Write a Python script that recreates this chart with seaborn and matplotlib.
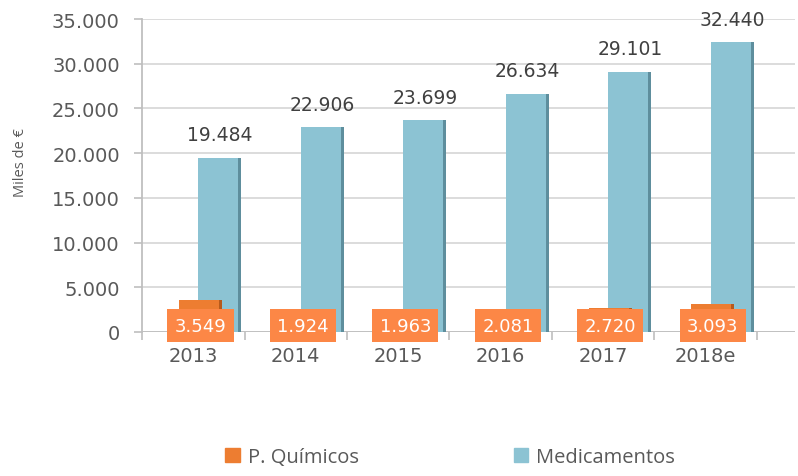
import matplotlib
matplotlib.use("Agg")
import matplotlib.pyplot as plt
from matplotlib.patches import Patch, Rectangle
from matplotlib.ticker import FuncFormatter, FixedLocator
import pandas as pd
import seaborn as sns

# --- data ---
years = ["2013", "2014", "2015", "2016", "2017", "2018e"]
quimicos = [3549, 1924, 1963, 2081, 2720, 3093]
medicamentos = [19484, 22906, 23699, 26634, 29101, 32440]

ORANGE = "#ED7D31"
ORANGE_DARK = "#B65A1C"
LABEL_BOX = "#FC8746"
BLUE = "#8CC3D3"
BLUE_DARK = "#5E8E9D"
GREY_TXT = "#595959"


def fmt_es(v, pos=None):
    return f"{int(v):,}".replace(",", ".")


def main():
    df_q = pd.DataFrame({"year": years, "value": quimicos})
    df_m = pd.DataFrame({"year": years, "value": medicamentos})

    sns.set_style("white")
    plt.rcParams["font.family"] = ["DejaVu Sans"]

    fig = plt.figure(figsize=(7.98, 4.77), dpi=100)
    ax = fig.add_axes([0.178, 0.302, 0.818, 0.656])

    # back series first, front series on top
    sns.barplot(data=df_m, x="year", y="value", color=BLUE, width=0.42,
                saturation=1, ax=ax, zorder=2)
    n_m = len(ax.patches)
    sns.barplot(data=df_q, x="year", y="value", color=ORANGE, width=0.42,
                saturation=1, ax=ax, zorder=3)

    # shift bars to mimic the 3D depth offset
    for i, p in enumerate(ax.patches[:]):
        shift = 0.26 if i < n_m else 0.07
        p.set_x(p.get_x() + shift)
        p.set_edgecolor("none")

    # darker right side of each bar
    for i, p in enumerate(list(ax.patches)):
        dark = BLUE_DARK if i < n_m else ORANGE_DARK
        w = p.get_width() * 0.07
        ax.add_patch(Rectangle((p.get_x() + p.get_width() - w, 0), w,
                               p.get_height(), color=dark, lw=0,
                               zorder=p.get_zorder()))

    # value labels for medicamentos
    for i, v in enumerate(medicamentos):
        ax.text(i + 0.26, v + 1500, fmt_es(v), ha="center", va="bottom",
                fontsize=13.5, color="#404040", zorder=5)

    # boxed labels for p. quimicos
    for i, v in enumerate(quimicos):
        ax.text(i + 0.07, 700, fmt_es(v), ha="center", va="center",
                fontsize=13, color="white", zorder=6,
                bbox=dict(boxstyle="square,pad=0.4", fc=LABEL_BOX, ec="none"))

    ax.set_ylim(0, 35000)
    ax.set_xlim(-0.5, 5.87)
    ax.yaxis.set_major_locator(FixedLocator(range(0, 35001, 5000)))
    ax.yaxis.set_major_formatter(FuncFormatter(fmt_es))
    ax.yaxis.grid(True, color="#D9D9D9", linewidth=1.3, zorder=0)
    ax.set_axisbelow(True)

    ax.set_xlabel("")
    ax.set_ylabel("Miles de €", fontsize=10.5, color=GREY_TXT,
                  family="Open Sans")
    ax.yaxis.set_label_coords(-0.174, 0.543)

    for s in ["top", "right", "bottom"]:
        ax.spines[s].set_visible(False)
    ax.spines["left"].set_color("#BFBFBF")
    ax.spines["left"].set_linewidth(1.3)
    ax.axhline(0, color="#BFBFBF", linewidth=1.3, zorder=1)

    ax.tick_params(axis="y", length=6, width=1.2, color="#BFBFBF",
                   labelsize=14, labelcolor=GREY_TXT, left=True, pad=10)
    ax.tick_params(axis="x", which="major", length=0, labelsize=14,
                   labelcolor=GREY_TXT, pad=10)
    ax.set_xticks([i + 0.5 for i in range(-1, len(years))], minor=True)
    ax.tick_params(axis="x", which="minor", length=6, width=1.2,
                   color="#BFBFBF", bottom=True)

    handles = [Patch(color=ORANGE, label="P. Químicos"),
               Patch(color=BLUE, label="Medicamentos")]
    fig.legend(handles=handles, loc="center", bbox_to_anchor=(0.564, 0.04),
               ncol=2, frameon=False, handlelength=0.7, handleheight=0.7,
               handletextpad=0.4, columnspacing=7.7,
               prop={"family": "Open Sans", "size": 14.5},
               labelcolor=GREY_TXT)

    fig.savefig("out.png", dpi=100)


if __name__ == "__main__":
    main()
